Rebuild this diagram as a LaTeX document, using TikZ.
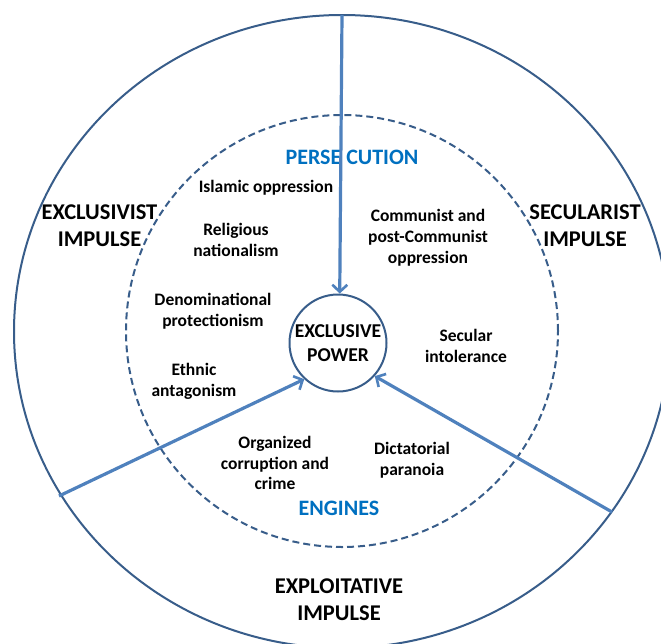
\documentclass[tikz,border=0pt]{standalone}
\usepackage{fontspec}
\setmainfont{Carlito}
\usetikzlibrary{arrows.meta}
\definecolor{ringblue}{RGB}{56,93,138}
\definecolor{arrowblue}{RGB}{79,129,189}
\definecolor{titleblue}{RGB}{0,112,192}
\begin{document}
\begin{tikzpicture}[x=1pt,y=-1pt,
  ring/.style={draw=ringblue,line width=2pt},
  dashring/.style={draw=ringblue,line width=2pt,dash pattern=on 7pt off 4pt},
  arr/.style={draw=arrowblue,line width=3.2pt,-{Straight Barb[length=7pt,width=15pt,line width=2.6pt]}},
  lbl/.style={align=center,font=\fontsize{17.5}{20.8}\selectfont\bfseries,inner sep=0pt},
  big/.style={align=center,font=\fontsize{22.5}{27}\selectfont\bfseries,inner sep=0pt},
  ttl/.style={align=center,font=\fontsize{22}{27}\selectfont\bfseries,inner sep=0pt,text=titleblue}]
\useasboundingbox (0,0) rectangle (661,643);
\clip (0,0) rectangle (661,643);
% rings
\draw[ring] (342,331.5) ellipse [x radius=328pt, y radius=316.5pt];
\draw[dashring] (342,331) circle [radius=216pt];
\node[circle,ring,minimum size=97pt,inner sep=0pt,align=center,
      font=\fontsize{19.6}{23.3}\selectfont\bfseries] (core) at (338,343) {EXCLUSIVE\\POWER};
% impulse labels
\node[big] (excl) at (99.5,226) {EXCLUSIVIST\\IMPULSE};
\node[big] (secu) at (585,226) {SECULARIST\\IMPULSE};
\node[big] (expl) at (339,600) {EXPLOITATIVE\\IMPULSE};
% titles
\node[ttl] (pers) at (352,157) {PERSE CUTION};
\node[ttl] (eng) at (339,508) {ENGINES};
% engines
\node[lbl] (isl) at (266,188) {Islamic oppression};
\node[lbl] (rel) at (236,240) {Religious\\nationalism};
\node[lbl] (com) at (428,238) {Communist and\\post-Communist\\oppression};
\node[lbl] (den) at (213,311) {Denominational\\protectionism};
\node[lbl] (sec) at (466,346) {Secular\\intolerance};
\node[lbl] (eth) at (194,381) {Ethnic\\antagonism};
\node[lbl] (org) at (275,463) {Organized\\corruption and\\crime};
\node[lbl] (dic) at (412,460) {Dictatorial\\paranoia};
% arrows
\coordinate (tl) at (342,15);
\coordinate (bl) at (59,496);
\coordinate (br) at (612,512);
\draw[arr] (tl) -- (core.88);
\draw[arr] (bl) -- (core.227);
\draw[arr] (br) -- (core.318);
\end{tikzpicture}
\end{document}
